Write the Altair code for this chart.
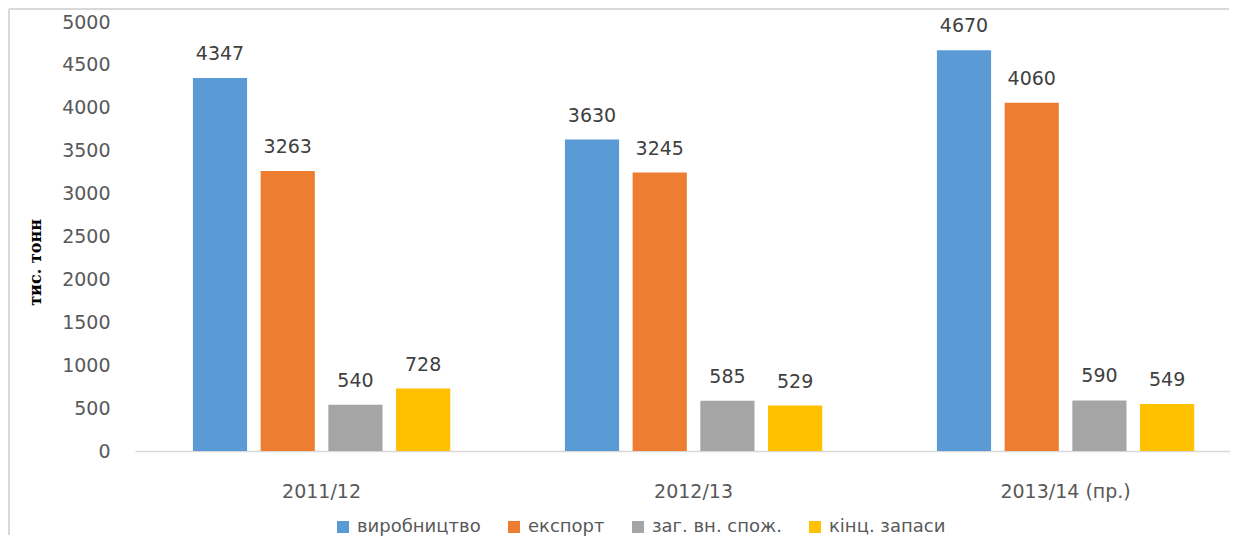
import altair as alt
import pandas as pd

seasons = ["2011/12", "2012/13", "2013/14 (пр.)"]
series = ["виробництво", "експорт", "заг. вн. спож.", "кінц. запаси"]
production = [4347, 3630, 4670]
export = [3263, 3245, 4060]
consumption = [540, 585, 590]
stocks = [728, 529, 549]
colors = ["#5B9BD5", "#ED7D31", "#A5A5A5", "#FFC000"]
y_ticks = list(range(0, 5001, 500))

rows = []
for name, vals in zip(series, [production, export, consumption, stocks]):
    for s, v in zip(seasons, vals):
        rows.append({"season": s, "series": name, "value": v})
df = pd.DataFrame(rows)

W, H = 1095, 429
FONT = "DejaVu Sans"

base = alt.Chart(df).encode(
    x=alt.X("season:N", sort=seasons,
            scale=alt.Scale(paddingInner=0.272, paddingOuter=0.1078, align=0.638),
            axis=alt.Axis(title=None, labelAngle=0, domainColor="#d9d9d9", domainWidth=1.5,
                          ticks=False, tickSize=0, labelPadding=31, labelFontSize=19,
                          labelFont=FONT, labelColor="#595959")),
    xOffset=alt.XOffset("series:N", sort=series,
                        scale=alt.Scale(paddingInner=0.2, paddingOuter=0.1)),
    y=alt.Y("value:Q", scale=alt.Scale(domain=[0, 5000], nice=False),
            axis=alt.Axis(title="тис. тонн", values=y_ticks, format="d", grid=False,
                          domain=False, ticks=False, tickSize=0, labelPadding=25,
                          labelFontSize=19, labelFont=FONT, labelColor="#595959",
                          titleFont="DejaVu Serif", titleFontWeight="bold", titleFontSize=16,
                          titleColor="#000000", titleAngle=270, titleX=-100, titleY=240,
                          titleAlign="center", titleBaseline="middle")),
)

bars = base.mark_bar().encode(
    color=alt.Color("series:N", sort=series,
                    scale=alt.Scale(domain=series, range=colors),
                    legend=alt.Legend(title=None, orient="none", direction="horizontal",
                                      legendX=199, legendY=496, symbolType="square",
                                      symbolSize=144, symbolStrokeWidth=0, labelFontSize=18,
                                      labelFont=FONT, labelColor="#595959", labelOffset=5,
                                      columnPadding=24, padding=0))
)

labels = base.mark_text(baseline="alphabetic", dy=-18, fontSize=19, font=FONT,
                        color="#404040").encode(text=alt.Text("value:Q"))

one = alt.Data(values=[{"a": 1}])
frame_top = alt.Chart(one).mark_rule(color="#d9d9d9", strokeWidth=2).encode(
    x=alt.value(-126), x2=alt.value(W - 1), y=alt.value(-13)
)
frame_left = alt.Chart(one).mark_rule(color="#d9d9d9", strokeWidth=2).encode(
    x=alt.value(-126), y=alt.value(-13), y2=alt.value(H + 84)
)

chart = alt.layer(frame_top, frame_left, bars, labels).properties(
    width=W, height=H,
    autosize=alt.AutoSizeParams(type="none"),
    padding={"left": 127, "top": 14, "right": 0, "bottom": 85},
).configure_view(stroke=None)

chart.save("out.html", embed_options={"renderer": "svg", "actions": False})
